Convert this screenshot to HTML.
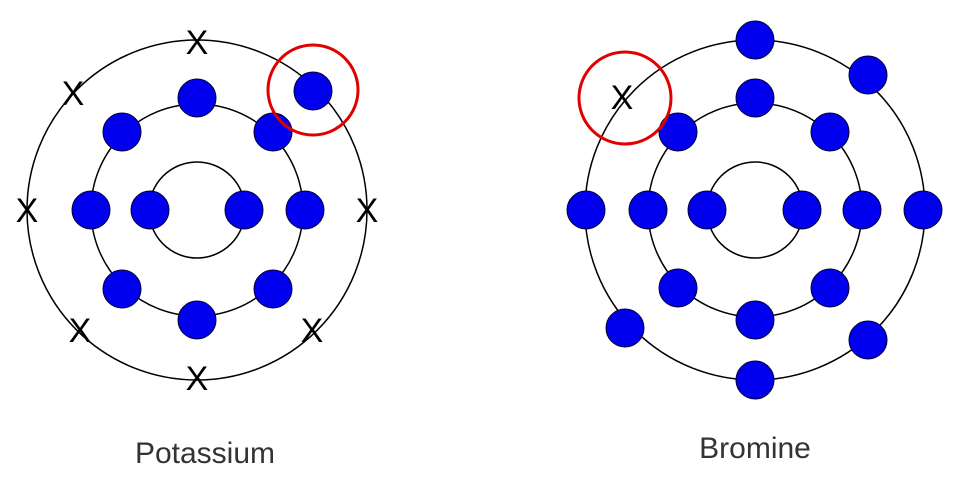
<!DOCTYPE html>
<html><head><meta charset="utf-8"><style>html,body{margin:0;padding:0;background:#fff}</style></head>
<body>
<svg width="955" height="485" viewBox="0 0 955 485" xmlns="http://www.w3.org/2000/svg">
<g fill="none" stroke="#000" stroke-width="1.5">
<circle cx="197" cy="210" r="48"/><circle cx="197" cy="210" r="106"/><circle cx="197" cy="210" r="170"/>
<circle cx="755" cy="210" r="48"/><circle cx="755" cy="210" r="107"/><circle cx="755" cy="210" r="170"/>
</g>
<g fill="#0000ee" stroke="#000033" stroke-width="1">
<circle cx="150" cy="210" r="19"/><circle cx="244" cy="210" r="19"/>
<circle cx="91" cy="210" r="19"/><circle cx="305" cy="210" r="19"/><circle cx="197" cy="98" r="19"/><circle cx="197" cy="320" r="19"/>
<circle cx="122" cy="132" r="19"/><circle cx="273" cy="132" r="19"/><circle cx="122" cy="289" r="19"/><circle cx="273" cy="289" r="19"/>
<circle cx="313" cy="91" r="19"/>
<circle cx="707" cy="210" r="19"/><circle cx="802" cy="210" r="19"/>
<circle cx="648" cy="210" r="19"/><circle cx="862" cy="210" r="19"/><circle cx="755" cy="98" r="19"/><circle cx="755" cy="320" r="19"/>
<circle cx="678" cy="132" r="19"/><circle cx="830" cy="132" r="19"/><circle cx="678" cy="288" r="19"/><circle cx="830" cy="288" r="19"/>
<circle cx="755" cy="40" r="19"/><circle cx="586" cy="210" r="19"/><circle cx="923" cy="210" r="19"/>
<circle cx="868" cy="75" r="19"/><circle cx="625" cy="328" r="19"/><circle cx="868" cy="340" r="19"/><circle cx="755" cy="380" r="19"/>
</g>
<g font-family="Liberation Sans, sans-serif" font-size="34" text-anchor="middle" fill="#000">
<text x="197" y="54">X</text><text x="73" y="105">X</text><text x="27" y="222">X</text><text x="367" y="222">X</text>
<text x="80" y="342">X</text><text x="312" y="342">X</text><text x="197" y="390">X</text>
<text x="622" y="109">X</text>
</g>
<g fill="none" stroke="#e00000" stroke-width="3">
<circle cx="313" cy="90" r="45"/><circle cx="625" cy="98" r="46"/>
</g>
<g font-family="Liberation Sans, sans-serif" font-size="30" text-anchor="middle" fill="#333">
<text x="205" y="463">Potassium</text><text x="755" y="458">Bromine</text>
</g>
</svg>
</body></html>
